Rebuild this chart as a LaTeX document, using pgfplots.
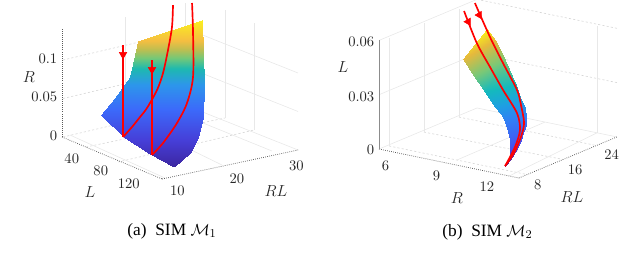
\documentclass[border=0pt]{standalone}
\usepackage{pgfplots}
\pgfplotsset{compat=1.18}
\usepackage{fontspec}
\setmainfont{Liberation Serif}
\pgfplotsset{
  colormap={mapa}{rgb255(0cm)=(60,38,160); rgb255(18cm)=(70,62,215); rgb255(39cm)=(60,105,250); rgb255(56cm)=(45,150,235); rgb255(67cm)=(30,185,175); rgb255(74cm)=(115,200,120); rgb255(80cm)=(190,190,80); rgb255(86cm)=(245,190,65); rgb255(100cm)=(250,240,30)},
  colormap={mapb}{rgb255(0cm)=(62,38,168); rgb255(12cm)=(72,75,240); rgb255(27cm)=(50,125,245); rgb255(36cm)=(30,160,225); rgb255(50cm)=(20,185,190); rgb255(70cm)=(120,200,120); rgb255(87cm)=(230,185,60); rgb255(100cm)=(250,240,25)},
  sim/.style={
    clip=false, scale only axis,
    axis line style={draw=none}, tick style={draw=none},
    scaled ticks=false,
    /pgf/number format/fixed,
    tick label style={font=\fontsize{10.95}{12}\selectfont, text=black!85},
  },
  g/.style={no marks, draw=black!9, line width=0.45pt, forget plot},
  d/.style={no marks, draw=black!16, line width=0.45pt, dash pattern=on 1.6pt off 1.6pt, forget plot},
  ax/.style={no marks, draw=black!65, line width=0.55pt, forget plot},
  rl/.style={no marks, draw=red, line width=1.25pt, forget plot},
  arr/.style={only marks, mark=triangle*, mark size=3.2pt, mark options={fill=red, draw=red}, forget plot},
}
\begin{document}
\begin{tikzpicture}
\useasboundingbox (0,0) rectangle (480pt,198pt);
% ---------- panel (a)
\begin{axis}[sim, at={(46.5pt,63.75pt)}, anchor=south west,
  x={(4.4625pt,0.9525pt)}, y={(0.54375pt,-0.228pt)}, z={(0pt,577.5pt)},
  xmin=8.6, xmax=31.44, ymin=20, ymax=158.1, zmin=0, zmax=0.14,
  xtick={10,20,30}, ytick={40,80,120}, ztick={0,0.05,0.1},
  xticklabel style={yshift=-2.5pt},
  yticklabel style={xshift=3pt, yshift=-3.5pt},
  colormap name=mapa, point meta min=0, point meta max=0.13]
% floor
\addplot3[d] coordinates {(8.71,20.47,0) (30.83,14.16,0)};
\addplot3[d] coordinates {(8.61,52.97,0) (31.81,54.42,0)};
\addplot3[d] coordinates {(8.2,100.56,0) (31.85,94.08,0)};
\addplot3[g] coordinates {(30.83,14.16,0) (31.44,158.15,0)};
\addplot3[g] coordinates {(28.03,55.09,0) (28.27,148.23,0)};
\addplot3[g] coordinates {(20.7,14.58,0) (18.98,155.49,0)};
\addplot3[g] coordinates {(10.02,19.36,0) (9.18,157.31,0)};
% walls
\addplot3[d] coordinates {(8.71,20.47,0.05) (30.83,14.16,0.05)};
\addplot3[d] coordinates {(8.71,20.47,0.1) (30.83,14.16,0.1)};
\addplot3[g] coordinates {(30.83,14.16,0.05) (31.44,158.15,0.05)};
\addplot3[g] coordinates {(30.83,14.16,0.1) (31.44,158.15,0.1)};
\addplot3[g] coordinates {(19.6,16.61,0) (19.6,16.61,0.1364)};
\addplot3[g] coordinates {(30.0,14.01,0) (30.0,14.01,0.1364)};
\addplot3[g] coordinates {(31.81,54.42,0) (31.81,54.42,0.1403)};
\addplot3[g] coordinates {(31.85,94.08,0) (31.85,94.08,0.139)};
% axes
\addplot3[ax, densely dotted] coordinates {(8.6,20,0) (8.6,158.09,0)};
\addplot3[ax, densely dotted] coordinates {(8.6,158.09,0) (31.44,158.15,0)};
\addplot3[ax, densely dotted] coordinates {(8.6,20,0) (8.6,20,0.1416)};
% surface
\addplot3[surf, shader=interp, mesh/cols=4, point meta=z, forget plot] coordinates {
(9.39,67.32,0.0460) (10.12,94.48,0.0256) (11.55,117.24,0.0115) (13.12,137.44,0)
(12.39,62.01,0.0610) (13.31,88.94,0.0415) (14.57,113.09,0.0256) (16.09,135.16,0.0124)
(14.02,58.32,0.0698) (15.19,83.16,0.0530) (16.73,106.38,0.0389) (18.33,127.75,0.0265)
(15.84,54.39,0.0796) (17.24,75.99,0.0663) (18.93,96.66,0.0548) (20.58,116.17,0.0442)
(18.26,41.42,0.0990) (19.89,59.77,0.0893) (21.61,77.42,0.0804) (23.41,94.38,0.0725)
(19.78,33.07,0.1114) (22.71,37.97,0.1176) (25.76,43.35,0.1238) (28.69,48.25,0.1299)
};
% trajectories
\addplot3[rl, smooth] coordinates {(26.73,24.33,0.1432) (24.75,39.16,0.1238) (22.36,53.29,0.1034) (19.86,66.95,0.0831) (17.75,75.99,0.0681) (15.11,83.85,0.0522) (13.57,86.85,0.0442) (11.83,90.09,0.0354) (9.98,92.85,0.0265)};
\addplot3[rl, smooth] coordinates {(29.02,31.78,0.1450) (26.59,53.10,0.1185) (22.86,83.70,0.0796) (19.99,98.99,0.0566) (17.18,108.24,0.0389) (13.93,115.63,0.0212) (11.68,118.87,0.0106)};
\addplot3[rl, line width=1.4pt] coordinates {(9.98,92.85,0.0265) (9.98,92.85,0.146)};
\addplot3[rl, line width=1.4pt] coordinates {(11.68,118.87,0.0106) (11.68,118.87,0.134)};
\addplot3[arr, mark options={rotate=180, fill=red, draw=red}] coordinates {(9.98,92.85,0.1335) (11.68,118.87,0.1215)};
\end{axis}
% ---------- panel (b)
\begin{axis}[sim, at={(284.25pt,64.5pt)}, anchor=south west,
  x={(12.75pt,-2.64pt)}, y={(3.42pt,1.4325pt)}, z={(0pt,1357.5pt)},
  xmin=5.24, xmax=13.47, ymin=5.6, ymax=27.1, zmin=0, zmax=0.06,
  xtick={6,9,12}, ytick={8,16,24}, ztick={0,0.03,0.06},
  xticklabel style={yshift=-3pt},
  yticklabel style={yshift=-1pt},
  colormap name=mapb, point meta min=0, point meta max=0.057]
% floor
\addplot3[g] coordinates {(5.24,5.6,0) (5.24,27.1,0)};
\addplot3[g] coordinates {(5.24,27.1,0) (13.47,27.1,0)};
\addplot3[d] coordinates {(5.35,7.4,0) (13.47,7.4,0)};
\addplot3[d] coordinates {(5.41,14.8,0) (13.47,15.3,0)};
\addplot3[d] coordinates {(5.38,22.6,0) (13.47,22.6,0)};
\addplot3[g] coordinates {(9.34,7.4,0) (9.24,27.1,0)};
\addplot3[g] coordinates {(12.9,5.6,0) (12.3,27.1,0)};
% walls
\addplot3[g] coordinates {(5.24,5.6,0.03) (5.24,27.1,0.03)};
\addplot3[g] coordinates {(5.24,5.6,0.06) (5.24,27.1,0.06)};
\addplot3[d] coordinates {(5.24,27.1,0.03) (13.47,27.1,0.03)};
\addplot3[d] coordinates {(5.24,27.1,0.06) (13.47,27.1,0.06)};
\addplot3[g] coordinates {(5.35,7.38,0) (5.35,7.38,0.0597)};
\addplot3[g] coordinates {(5.41,14.82,0) (5.41,14.82,0.0602)};
\addplot3[g] coordinates {(5.38,22.62,0) (5.38,22.62,0.0597)};
\addplot3[g] coordinates {(12.3,27.1,0) (12.3,27.1,0.0591)};
% axes
\addplot3[ax, densely dotted] coordinates {(5.24,5.6,0) (13.47,5.6,0)};
\addplot3[ax, densely dotted] coordinates {(13.47,5.6,0) (13.47,27.1,0)};
\addplot3[ax, draw=black!45] coordinates {(5.24,5.6,0) (5.24,5.6,0.06)};
% surface
\addplot3[surf, shader=interp, mesh/cols=2, point meta=z, forget plot] coordinates {
(11.80,8.79,0) (11.80,8.79,0)
(11.84,9.40,0.0022) (11.82,9.89,0.0022)
(11.74,10.08,0.0046) (11.66,11.50,0.0046)
(11.58,10.80,0.0074) (11.47,13.20,0.0074)
(11.30,11.73,0.0103) (11.16,15.12,0.0103)
(10.80,13.15,0.0128) (10.93,16.52,0.0128)
(10.28,14.44,0.0154) (10.64,17.71,0.0154)
(9.82,15.30,0.018) (10.18,19.11,0.018)
(9.35,15.73,0.0205) (9.71,20.07,0.0205)
(8.90,15.19,0.0285) (9.47,19.89,0.0285)
(8.92,12.70,0.040) (8.64,20.56,0.040)
(8.53,11.77,0.0496) (8.00,20.75,0.0496)
(7.91,19.33,0.057) (7.91,19.33,0.057)
};
% trajectories
\addplot3[rl, smooth] coordinates {(6.59,19.22,0.0645) (7.83,17.38,0.0512) (8.91,16.26,0.0412) (9.96,15.22,0.0316) (11.04,14.24,0.0220) (11.55,12.99,0.0150) (11.75,11.15,0.0079) (11.80,8.79,0)};
\addplot3[rl, smooth] coordinates {(6.83,20.71,0.0678) (8.21,18.86,0.0537) (9.33,17.55,0.0428) (10.51,16.23,0.0316) (11.01,15.22,0.0254) (11.55,13.89,0.0179) (11.75,12.45,0.0121) (11.85,10.56,0.0054) (11.80,8.79,0)};
\addplot3[arr, mark options={rotate=-150, fill=red, draw=red}] coordinates {(7.00,18.61,0.0600) (7.28,19.99,0.0628)};
\end{axis}
% ---------- labels and captions (positions in reference pixels x 0.75)
\def\lab#1#2#3{\node[font=\fontsize{12}{14}\selectfont, text=black!85] at (#1*0.75pt,{(264-#2)*0.75pt}) {$#3$};}
\lab{29}{77}{R}
\lab{90}{192}{L}
\lab{276}{191}{RL}
\lab{343}{67}{L}
\lab{457}{198}{R}
\lab{572}{197}{RL}
\node[font=\fontsize{13}{15}\selectfont] at (172*0.75pt,{(264-231)*0.75pt}) {(a)\ \ SIM $\mathcal{M}_1$};
\node[font=\fontsize{13}{15}\selectfont] at (487.5*0.75pt,{(264-232)*0.75pt}) {(b)\ \ SIM $\mathcal{M}_2$};
\end{tikzpicture}
\end{document}
